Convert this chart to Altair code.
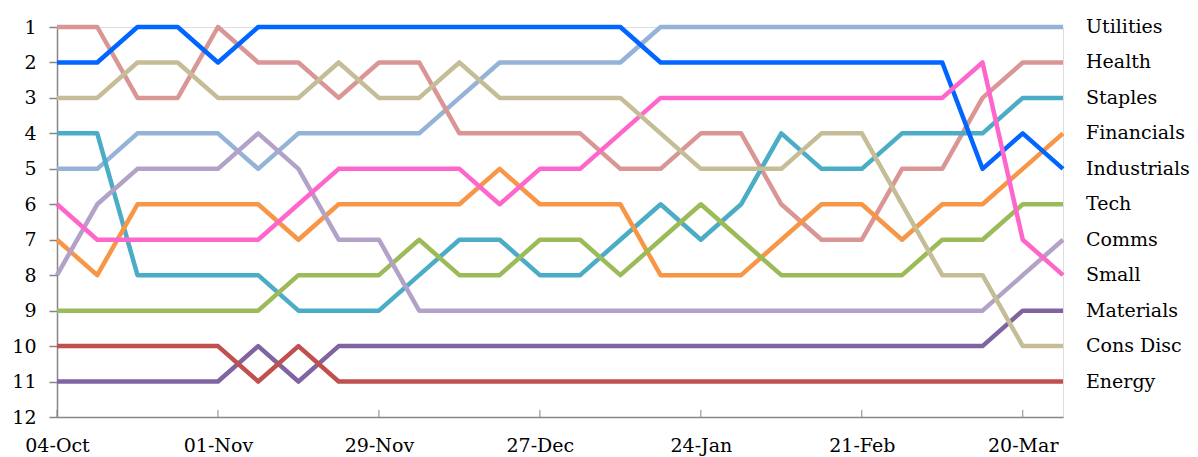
import altair as alt
import pandas as pd

dates = ["2015-10-04", "2015-10-11", "2015-10-18", "2015-10-25",
         "2015-11-01", "2015-11-08", "2015-11-15", "2015-11-22", "2015-11-29",
         "2015-12-06", "2015-12-13", "2015-12-20", "2015-12-27",
         "2016-01-03", "2016-01-10", "2016-01-17", "2016-01-24", "2016-01-31",
         "2016-02-07", "2016-02-14", "2016-02-21", "2016-02-28",
         "2016-03-06", "2016-03-13", "2016-03-20", "2016-03-27"]

tick_dates = ["2015-10-04", "2015-11-01", "2015-11-29", "2015-12-27",
              "2016-01-24", "2016-02-21", "2016-03-20"]

sectors = ["Utilities", "Health", "Staples", "Financials", "Industrials", "Tech",
           "Comms", "Small", "Materials", "Cons Disc", "Energy"]

colors = ["#95B3D7", "#D99694", "#4BACC6", "#F79646", "#0066FF", "#9BBB59",
          "#B3A2C7", "#FF66CC", "#8064A2", "#C4BD97", "#C0504D"]

utilities   = [5, 5, 4, 4, 4, 5, 4, 4, 4, 4, 3, 2, 2, 2, 2, 1, 1, 1, 1, 1, 1, 1, 1, 1, 1, 1]
health      = [1, 1, 3, 3, 1, 2, 2, 3, 2, 2, 4, 4, 4, 4, 5, 5, 4, 4, 6, 7, 7, 5, 5, 3, 2, 2]
staples     = [4, 4, 8, 8, 8, 8, 9, 9, 9, 8, 7, 7, 8, 8, 7, 6, 7, 6, 4, 5, 5, 4, 4, 4, 3, 3]
financials  = [7, 8, 6, 6, 6, 6, 7, 6, 6, 6, 6, 5, 6, 6, 6, 8, 8, 8, 7, 6, 6, 7, 6, 6, 5, 4]
industrials = [2, 2, 1, 1, 2, 1, 1, 1, 1, 1, 1, 1, 1, 1, 1, 2, 2, 2, 2, 2, 2, 2, 2, 5, 4, 5]
tech        = [9, 9, 9, 9, 9, 9, 8, 8, 8, 7, 8, 8, 7, 7, 8, 7, 6, 7, 8, 8, 8, 8, 7, 7, 6, 6]
comms       = [8, 6, 5, 5, 5, 4, 5, 7, 7, 9, 9, 9, 9, 9, 9, 9, 9, 9, 9, 9, 9, 9, 9, 9, 8, 7]
small       = [6, 7, 7, 7, 7, 7, 6, 5, 5, 5, 5, 6, 5, 5, 4, 3, 3, 3, 3, 3, 3, 3, 3, 2, 7, 8]
materials   = [11, 11, 11, 11, 11, 10, 11, 10, 10, 10, 10, 10, 10, 10, 10, 10, 10, 10, 10, 10, 10, 10, 10, 10, 9, 9]
cons_disc   = [3, 3, 2, 2, 3, 3, 3, 2, 3, 3, 2, 3, 3, 3, 3, 4, 5, 5, 5, 4, 4, 6, 8, 8, 10, 10]
energy      = [10, 10, 10, 10, 10, 11, 10, 11, 11, 11, 11, 11, 11, 11, 11, 11, 11, 11, 11, 11, 11, 11, 11, 11, 11, 11]

series = [utilities, health, staples, financials, industrials, tech,
          comms, small, materials, cons_disc, energy]

rows = []
for name, vals in zip(sectors, series):
    for d, v in zip(dates, vals):
        rows.append({"date": d, "rank": v, "sector": name})
df = pd.DataFrame(rows)
last = df[df["date"] == dates[-1]]
ticks_df = pd.DataFrame({"date": tick_dates, "lo": [12] * len(tick_dates),
                         "hi": [11.8] * len(tick_dates)})


def ms(d):
    return int(pd.Timestamp(d, tz="UTC").value // 10**6)


FONT = "DejaVu Serif"
AX = "#868686"

xscale = alt.Scale(type="utc", domain=[ms(dates[0]), ms(dates[-1])], nice=False)
yscale = alt.Scale(domain=[1, 12], reverse=True, nice=False, zero=False)

xaxis = alt.Axis(values=[ms(d) for d in tick_dates],
                 labelExpr="utcFormat(datum.value, '%d-%b')",
                 labelFont=FONT, labelFontSize=19, labelColor="black", tickSize=0,
                 domainColor=AX, domainWidth=1.5, grid=False, title=None,
                 labelPadding=19, labelFlush=False, labelOverlap=False)
yaxis = alt.Axis(values=list(range(1, 13)), labelFont=FONT, labelFontSize=19,
                 labelColor="black", tickSize=8, tickColor=AX, tickWidth=1.5,
                 domainColor=AX, domainWidth=1.5, grid=False, title=None,
                 labelPadding=13, labelOverlap=False)

color = alt.Color("sector:N", scale=alt.Scale(domain=sectors, range=colors), legend=None)

X = alt.X("date:T", scale=xscale, axis=xaxis)

lines = alt.Chart(df).mark_line(strokeWidth=4.5, strokeJoin="round").encode(
    x=X,
    y=alt.Y("rank:Q", scale=yscale, axis=yaxis),
    color=color,
)

xticks = alt.Chart(ticks_df).mark_rule(color=AX, strokeWidth=1).encode(
    x=X,
    y=alt.Y("lo:Q", scale=yscale, axis=yaxis),
    y2="hi:Q",
)

labels = alt.Chart(last).mark_text(align="left", baseline="middle", dx=23,
                                   font=FONT, fontSize=19, color="black").encode(
    x=X,
    y=alt.Y("rank:Q", scale=yscale, axis=yaxis),
    text="sector:N",
)

chart = alt.layer(lines, xticks, labels).properties(
    width=1006, height=390,
    padding={"left": 57, "top": 27, "right": 135, "bottom": 40},
    autosize=alt.AutoSizeParams(type="none"),
).configure_view(stroke=None).configure(background="white")

chart.save("out.html", embed_options={"renderer": "svg", "actions": False})
